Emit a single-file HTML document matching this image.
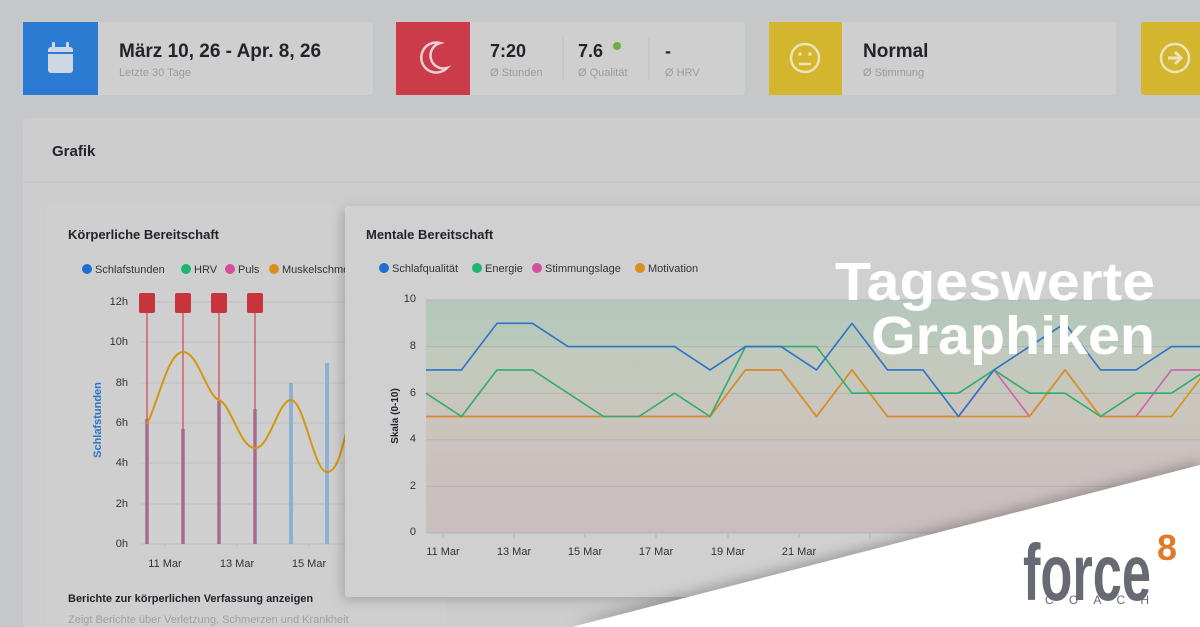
<!DOCTYPE html>
<html><head><meta charset="utf-8"><style>
html,body{margin:0;padding:0;background:#c6c7c9;}
svg{display:block;font-family:"Liberation Sans",sans-serif;}
</style></head><body>
<svg width="1200" height="627" viewBox="0 0 1200 627" xmlns="http://www.w3.org/2000/svg">
<defs>
<filter id="sh" x="-10%" y="-10%" width="120%" height="130%"><feDropShadow dx="-3" dy="3" stdDeviation="6" flood-color="#000" flood-opacity="0.2"/></filter>
<filter id="sh2" x="-10%" y="-30%" width="120%" height="160%"><feDropShadow dx="0" dy="-4" stdDeviation="6" flood-color="#000" flood-opacity="0.25"/></filter>
<linearGradient id="band" x1="0" y1="300" x2="0" y2="533" gradientUnits="userSpaceOnUse">
<stop offset="0" stop-color="#b6c8bb"/><stop offset="0.2" stop-color="#b9c9bc"/>
<stop offset="0.2" stop-color="#c2c9bd"/><stop offset="0.4" stop-color="#c5c8bd"/>
<stop offset="0.4" stop-color="#cac6bd"/><stop offset="0.6" stop-color="#cbc4bd"/>
<stop offset="0.6" stop-color="#ccc2bf"/><stop offset="1" stop-color="#cbbdbf"/>
</linearGradient>
<clipPath id="lc"><rect x="46" y="205" width="299" height="422"/></clipPath>
</defs>
<rect width="1200" height="627" fill="#c6c7c9"/>
<rect x="23" y="22" width="350" height="73" rx="3" fill="#cfcfcf"/>
<rect x="23" y="22" width="75" height="73" fill="#2a7bd1"/>
<rect x="48" y="47" width="25" height="26" rx="3" fill="#cfd8e2"/>
<rect x="52" y="42" width="3" height="8" rx="1" fill="#cfd8e2"/><rect x="66" y="42" width="3" height="8" rx="1" fill="#cfd8e2"/>
<rect x="48" y="52" width="25" height="2" fill="#2a7bd1"/>
<text x="119" y="57" font-size="19" font-weight="bold" fill="#23232c">März 10, 26 - Apr. 8, 26</text>
<text x="119" y="76" font-size="11" fill="#9b9b9b">Letzte 30 Tage</text>

<rect x="396" y="22" width="349" height="73" rx="3" fill="#cfcfcf"/>
<rect x="396" y="22" width="74" height="73" fill="#cb3b4a"/>
<path d="M440 43 A15 15 0 1 0 447 68 A12 12 0 0 1 440 43 Z" fill="none" stroke="#ead0d2" stroke-width="2.5"/>
<text x="490" y="57" font-size="18" font-weight="bold" fill="#23232c">7:20</text>
<text x="490" y="76" font-size="11" fill="#9b9b9b">Ø Stunden</text>
<line x1="563" y1="37" x2="563" y2="80" stroke="#bdbdbd"/>
<text x="578" y="57" font-size="18" font-weight="bold" fill="#23232c">7.6</text>
<circle cx="617" cy="46" r="4" fill="#6cb043"/>
<text x="578" y="76" font-size="11" fill="#9b9b9b">Ø Qualität</text>
<line x1="649" y1="37" x2="649" y2="80" stroke="#bdbdbd"/>
<text x="665" y="57" font-size="18" font-weight="bold" fill="#23232c">-</text>
<text x="665" y="76" font-size="11" fill="#9b9b9b">Ø HRV</text>

<rect x="769" y="22" width="347" height="73" rx="3" fill="#cfcfcf"/>
<rect x="769" y="22" width="73" height="73" fill="#d3b52e"/>
<circle cx="805" cy="58" r="14" fill="none" stroke="#ece3b8" stroke-width="2.5"/>
<circle cx="800" cy="54" r="1.8" fill="#ece3b8"/><circle cx="810" cy="54" r="1.8" fill="#ece3b8"/>
<line x1="799" y1="64" x2="811" y2="64" stroke="#ece3b8" stroke-width="2.5"/>
<text x="863" y="57" font-size="19" font-weight="bold" fill="#23232c">Normal</text>
<text x="863" y="76" font-size="11" fill="#9b9b9b">Ø Stimmung</text>

<rect x="1141" y="22" width="70" height="73" rx="3" fill="#d3b52e"/>
<circle cx="1175" cy="58" r="14" fill="none" stroke="#ece3b8" stroke-width="2.5"/>
<path d="M1168 58 H1180 M1175 52 L1181 58 L1175 64" stroke="#ece3b8" stroke-width="3" fill="none"/>

<rect x="23" y="118" width="1190" height="520" rx="3" fill="#cdcdcd"/>
<line x1="23" y1="182" x2="1200" y2="182" stroke="#bfbfbf"/>
<text x="52" y="156" font-size="15" font-weight="bold" fill="#23232c">Grafik</text>

<rect x="46" y="205" width="400" height="430" rx="3" fill="#cfcfcf"/>
<g clip-path="url(#lc)">
<text x="68" y="239" font-size="13" font-weight="bold" fill="#23232c">Körperliche Bereitschaft</text>
<g font-size="11" fill="#333">
<circle cx="87" cy="269" r="5" fill="#1f6fd0"/><text x="95" y="273">Schlafstunden</text>
<circle cx="186" cy="269" r="5" fill="#1fb56f"/><text x="194" y="273">HRV</text>
<circle cx="230" cy="269" r="5" fill="#d54ea0"/><text x="238" y="273">Puls</text>
<circle cx="274" cy="269" r="5" fill="#d8901a"/><text x="282" y="273">Muskelschmerzen</text>
</g>
<g stroke="#bfbfbf" stroke-width="1">
<line x1="140" y1="302" x2="345" y2="302"/><line x1="140" y1="342" x2="345" y2="342"/><line x1="140" y1="383" x2="345" y2="383"/>
<line x1="140" y1="423" x2="345" y2="423"/><line x1="140" y1="463" x2="345" y2="463"/><line x1="140" y1="504" x2="345" y2="504"/>
<line x1="140" y1="544" x2="345" y2="544"/>
<line x1="165" y1="544" x2="165" y2="549"/><line x1="237" y1="544" x2="237" y2="549"/><line x1="309" y1="544" x2="309" y2="549"/>
</g>
<g font-size="11" fill="#333" text-anchor="end">
<text x="128" y="305">12h</text><text x="128" y="345">10h</text><text x="128" y="386">8h</text><text x="128" y="426">6h</text><text x="128" y="466">4h</text><text x="128" y="507">2h</text><text x="128" y="547">0h</text>
</g>
<text transform="translate(101,420) rotate(-90)" font-size="11" font-weight="bold" fill="#2a75c8" text-anchor="middle">Schlafstunden</text>
<g fill="#8eb0d2">
<rect x="145" y="419" width="4" height="125" fill="#9a8fb8"/><rect x="181" y="429" width="4" height="115" fill="#9a8fb8"/>
<rect x="217" y="401" width="4" height="143" fill="#9a8fb8"/><rect x="253" y="409" width="4" height="135" fill="#9a8fb8"/>
<rect x="289" y="383" width="4" height="161"/><rect x="325" y="363" width="4" height="181"/>
</g>
<g stroke="#d2454f" stroke-width="1.2">
<line x1="147" y1="303" x2="147" y2="544"/><line x1="183" y1="303" x2="183" y2="544"/><line x1="219" y1="303" x2="219" y2="544"/><line x1="255" y1="303" x2="255" y2="544"/>
</g>
<g fill="#c8343d">
<rect x="139" y="293" width="16" height="20" rx="2"/><rect x="175" y="293" width="16" height="20" rx="2"/><rect x="211" y="293" width="16" height="20" rx="2"/><rect x="247" y="293" width="16" height="20" rx="2"/>
</g>
<path d="M147,424 C159,400 168,352 183,352 C198,352 207,396 219,400 C231,404 240,448 255,448 C270,448 278,400 291,400 C304,400 314,472 327,472 C337,472 342,450 348,425" fill="none" stroke="#d4960f" stroke-width="2"/>
<g font-size="11" fill="#333" text-anchor="middle">
<text x="165" y="567">11 Mar</text><text x="237" y="567">13 Mar</text><text x="309" y="567">15 Mar</text>
</g>
</g>
<text x="68" y="602" font-size="11" font-weight="bold" fill="#23232c">Berichte zur körperlichen Verfassung anzeigen</text>
<text x="68" y="623" font-size="11" fill="#a0a0a0">Zeigt Berichte über Verletzung, Schmerzen und Krankheit</text>

<rect x="345" y="206" width="870" height="391" rx="3" fill="#d0d0d0" filter="url(#sh)"/>
<text x="366" y="239" font-size="13" font-weight="bold" fill="#23232c">Mentale Bereitschaft</text>
<g font-size="11" fill="#333">
<circle cx="384" cy="268" r="5" fill="#1f6fd0"/><text x="392" y="272">Schlafqualität</text>
<circle cx="477" cy="268" r="5" fill="#1fb56f"/><text x="485" y="272">Energie</text>
<circle cx="537" cy="268" r="5" fill="#d54ea0"/><text x="545" y="272">Stimmungslage</text>
<circle cx="640" cy="268" r="5" fill="#d8901a"/><text x="648" y="272">Motivation</text>
</g>
<rect x="426" y="300" width="790" height="233" fill="url(#band)"/>
<g stroke="#b3b3b3" stroke-width="1">
<line x1="426" y1="300" x2="1200" y2="300"/><line x1="426" y1="346.6" x2="1200" y2="346.6"/><line x1="426" y1="393.2" x2="1200" y2="393.2"/>
<line x1="426" y1="439.8" x2="1200" y2="439.8"/><line x1="426" y1="486.4" x2="1200" y2="486.4"/><line x1="426" y1="533" x2="1200" y2="533"/>
<line x1="443" y1="533" x2="443" y2="538"/><line x1="514" y1="533" x2="514" y2="538"/><line x1="585" y1="533" x2="585" y2="538"/><line x1="656" y1="533" x2="656" y2="538"/><line x1="728" y1="533" x2="728" y2="538"/><line x1="799" y1="533" x2="799" y2="538"/><line x1="870" y1="533" x2="870" y2="538"/>
</g>
<g font-size="11" fill="#333" text-anchor="end">
<text x="416" y="302">10</text><text x="416" y="349">8</text><text x="416" y="396">6</text><text x="416" y="442">4</text><text x="416" y="489">2</text><text x="416" y="535">0</text>
</g>
<text transform="translate(398,416) rotate(-90)" font-size="10" font-weight="bold" fill="#23232c" text-anchor="middle">Skala (0-10)</text>
<g font-size="11" fill="#333" text-anchor="middle">
<text x="443" y="555">11 Mar</text><text x="514" y="555">13 Mar</text><text x="585" y="555">15 Mar</text><text x="656" y="555">17 Mar</text><text x="728" y="555">19 Mar</text><text x="799" y="555">21 Mar</text>
</g>
<g fill="none" stroke-width="1.6" stroke-linejoin="round">
<polyline stroke="#cc63a8" points="426,416.5 461.5,416.5 497,416.5 532.5,416.5 568,416.5 603.5,416.5 639,416.5 674.5,416.5 710,416.5 745.5,369.9 781,369.9 816.5,416.5 852,369.9 887.5,416.5 923,416.5 958.5,416.5 994,369.9 1029.5,416.5 1065,369.9 1100.5,416.5 1136,416.5 1171.5,369.9 1207,369.9"/>
<polyline stroke="#d8901a" points="426,416.5 461.5,416.5 497,416.5 532.5,416.5 568,416.5 603.5,416.5 639,416.5 674.5,416.5 710,416.5 745.5,369.9 781,369.9 816.5,416.5 852,369.9 887.5,416.5 923,416.5 958.5,416.5 994,416.5 1029.5,416.5 1065,369.9 1100.5,416.5 1136,416.5 1171.5,416.5 1207,369.9"/>
<polyline stroke="#2eae6c" points="426,393.2 461.5,416.5 497,369.9 532.5,369.9 568,393.2 603.5,416.5 639,416.5 674.5,393.2 710,416.5 745.5,346.6 781,346.6 816.5,346.6 852,393.2 887.5,393.2 923,393.2 958.5,393.2 994,369.9 1029.5,393.2 1065,393.2 1100.5,416.5 1136,393.2 1171.5,393.2 1207,369.9"/>
<polyline stroke="#2b74c6" points="426,369.9 461.5,369.9 497,323.3 532.5,323.3 568,346.6 603.5,346.6 639,346.6 674.5,346.6 710,369.9 745.5,346.6 781,346.6 816.5,369.9 852,323.3 887.5,369.9 923,369.9 958.5,416.5 994,369.9 1029.5,346.6 1065,323.3 1100.5,369.9 1136,369.9 1171.5,346.6 1207,346.6"/>
</g>

<g font-size="54" font-weight="bold" fill="#ffffff" text-anchor="end">
<text x="1155" y="300" textLength="320" lengthAdjust="spacingAndGlyphs">Tageswerte</text>
<text x="1155" y="354" textLength="284" lengthAdjust="spacingAndGlyphs">Graphiken</text>
</g>

<polygon points="572,627 1200,465 1200,627" fill="#ffffff" filter="url(#sh2)"/>
<text x="1023" y="600" font-family="'Liberation Sans Narrow','Liberation Sans',sans-serif" font-size="80" font-weight="bold" fill="#676a72" textLength="128" lengthAdjust="spacingAndGlyphs">force</text>
<text x="1157" y="560" font-family="'Liberation Sans Narrow','Liberation Sans',sans-serif" font-size="36" font-weight="bold" fill="#e07a2a" textLength="20" lengthAdjust="spacingAndGlyphs">8</text>
<text x="1045" y="604" font-size="12" fill="#676a72" textLength="104" lengthAdjust="spacing">COACH</text>
</svg>
</body></html>
